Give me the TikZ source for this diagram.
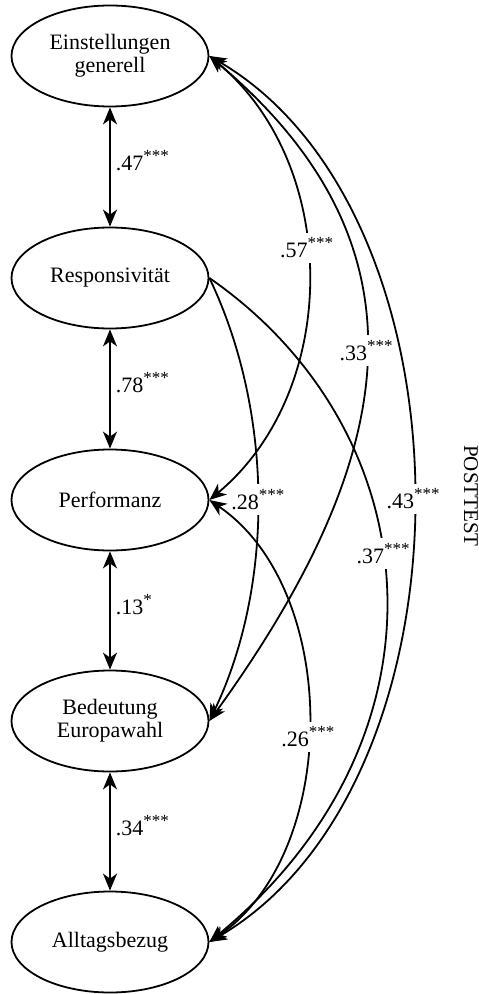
\documentclass[tikz,border=0pt]{standalone}
\usepackage{fontspec}
\setmainfont{Liberation Serif}
\usetikzlibrary{shapes.geometric,arrows.meta}
\newcommand{\stars}[1]{\raisebox{0.9ex}{\fontsize{8.5}{9}\selectfont #1}}
\begin{document}
\begin{tikzpicture}[x=0.5pt,y=-0.5pt,
  latent/.style={draw, ellipse, line width=0.9pt, minimum width=98.5pt, minimum height=50.5pt,
    inner sep=0pt, align=center, font=\fontsize{11}{11.5}\selectfont},
  conn/.style={line width=0.9pt},
  >={Stealth[length=8.5pt,width=7pt,inset=2.5pt]},
  coef/.style={fill=white, inner xsep=1pt, inner ysep=2.5pt, font=\fontsize{11}{12}\selectfont},
  vcoef/.style={right, inner sep=2.5pt, font=\fontsize{11}{12}\selectfont}]
\useasboundingbox (0,0) rectangle (478,994);
% latent variables
\node[latent] (E) at (110,56) {Einstellungen\\generell};
\node[latent] (R) at (110,278) {Responsivität};
\node[latent] (P) at (110,500) {Performanz};
\node[latent] (B) at (110,721) {Bedeutung\\Europawahl};
\node[latent] (A) at (110,942) {Alltagsbezug};
\node[rotate=-90, font=\fontsize{10.5}{12}\selectfont, inner sep=0pt] (post) at (471,496) {POSTTEST};
% adjacent correlations
\draw[conn,<->] (E.south) -- (R.north) node[vcoef,pos=0.45] (l47) {.47\stars{***}};
\draw[conn,<->] (R.south) -- (P.north) node[vcoef,pos=0.45] (l78) {.78\stars{***}};
\draw[conn,<->] (P.south) -- (B.north) node[vcoef,pos=0.45] (l13) {.13\stars{*}};
\draw[conn,<->] (B.south) -- (A.north) node[vcoef,pos=0.45] (l34) {.34\stars{***}};
% long-range correlations
\draw[conn,<->] (E.east) .. controls (341,166) and (341,390) .. (P.east)
  node[coef,pos=0.44] (l57) {.57\stars{***}};
\draw[conn,->] (R.east) .. controls (274,413) and (274,586) .. (B.east)
  node[coef,pos=0.5] (l28) {.28\stars{***}};
\draw[conn,<->] (P.east) .. controls (341,590) and (341,852) .. (A.east)
  node[coef,pos=0.53] (l26) {.26\stars{***}};
\draw[conn,->] (R.east) .. controls (430,431) and (460,735) .. (A.east)
  node[coef,pos=0.45] (l37) {.37\stars{***}};
\draw[conn,<->] (E.east) .. controls (439,249) and (397,461) .. (B.east)
  node[coef,pos=0.48] (l33) {.33\stars{***}};
\draw[conn,<->] (E.east) .. controls (481,215) and (481,783) .. (A.east)
  node[coef,pos=0.5] (l43) {.43\stars{***}};
\end{tikzpicture}
\end{document}
